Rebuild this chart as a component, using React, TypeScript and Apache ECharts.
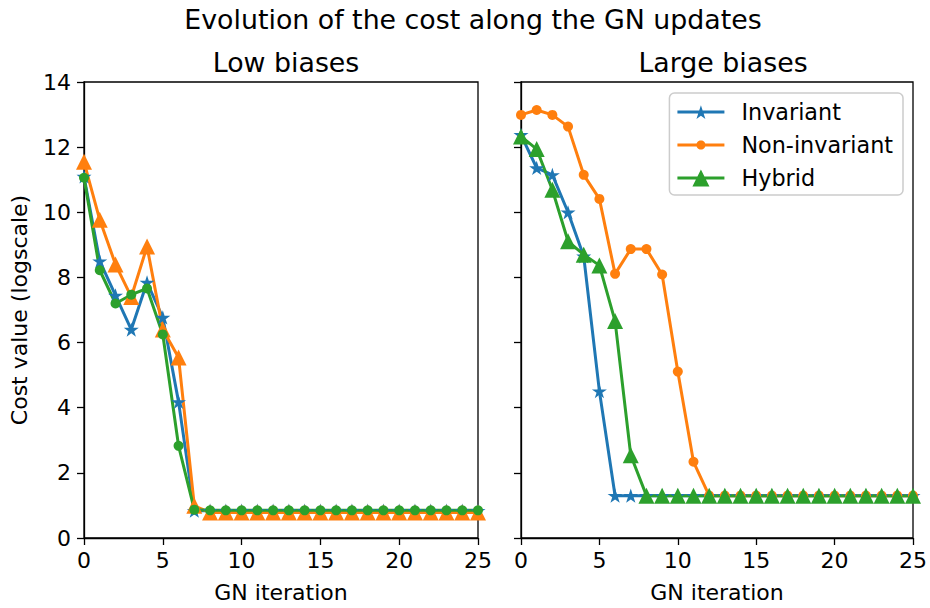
import React, { useEffect, useRef } from "react";
import * as echarts from "echarts";

const iterations = [0, 1, 2, 3, 4, 5, 6, 7, 8, 9, 10, 11, 12, 13, 14, 15, 16, 17, 18, 19, 20, 21, 22, 23, 24, 25];

const lowInvariant = [11.1, 8.5, 7.45, 6.4, 7.85, 6.77, 4.18, 0.84, 0.84, 0.84, 0.84, 0.84, 0.84, 0.84, 0.84, 0.84, 0.84, 0.84, 0.84, 0.84, 0.84, 0.84, 0.84, 0.84, 0.84, 0.84];
const lowNonInvariant = [11.55, 9.77, 8.4, 7.4, 8.95, 6.4, 5.54, 0.99, 0.78, 0.78, 0.78, 0.78, 0.78, 0.78, 0.78, 0.78, 0.78, 0.78, 0.78, 0.78, 0.78, 0.78, 0.78, 0.78, 0.78, 0.78];
const lowHybrid = [11.06, 8.22, 7.2, 7.47, 7.66, 6.25, 2.83, 0.87, 0.85, 0.85, 0.85, 0.85, 0.85, 0.85, 0.85, 0.85, 0.85, 0.85, 0.85, 0.85, 0.85, 0.85, 0.85, 0.85, 0.85, 0.85];

const largeInvariant = [12.38, 11.36, 11.15, 10.0, 8.65, 4.51, 1.3, 1.3, 1.3, 1.3, 1.3, 1.3, 1.3, 1.3, 1.3, 1.3, 1.3, 1.3, 1.3, 1.3, 1.3, 1.3, 1.3, 1.3, 1.3, 1.3];
const largeNonInvariant = [12.99, 13.14, 12.99, 12.63, 11.15, 10.41, 8.11, 8.87, 8.87, 8.09, 5.11, 2.34, 1.3, 1.3, 1.3, 1.3, 1.3, 1.3, 1.3, 1.3, 1.3, 1.3, 1.3, 1.3, 1.3, 1.3];
const largeHybrid = [12.33, 11.94, 10.69, 9.11, 8.7, 8.37, 6.66, 2.54, 1.3, 1.3, 1.3, 1.3, 1.3, 1.3, 1.3, 1.3, 1.3, 1.3, 1.3, 1.3, 1.3, 1.3, 1.3, 1.3, 1.3, 1.3];

const seriesNames = ["Invariant", "Non-invariant", "Hybrid"];
const xTicks = [0, 5, 10, 15, 20, 25];
const yTicks = [0, 2, 4, 6, 8, 10, 12, 14];

const BLUE = "#1f77b4";
const ORANGE = "#ff7f0e";
const GREEN = "#2ca02c";
const FONT = "DejaVu Sans";

const STAR =
  "path://M100,0 L122.45,69.1 L195.1,69.1 L136.3,111.8 L158.8,180.9 L100,138.2 L41.2,180.9 L63.7,111.8 L4.9,69.1 L77.55,69.1 Z";

// Legend icons: a line with the marker in its middle (box 47 x 22, all sub-paths clockwise)
const LEG_W = 47;
const LEG_H = 22;
const legLine = `M0,${LEG_H / 2 - 1.5} L${LEG_W},${LEG_H / 2 - 1.5} L${LEG_W},${LEG_H / 2 + 1.5} L0,${LEG_H / 2 + 1.5} Z`;
const legStar = (() => {
  const cx = LEG_W / 2, cy = LEG_H / 2 + 0.7, R = 7.6, r = R * 0.381966;
  const pts: string[] = [];
  for (let k = 0; k < 10; k++) {
    const ang = ((90 - k * 36) * Math.PI) / 180;
    const rad = k % 2 === 0 ? R : r;
    pts.push(`${(cx + rad * Math.cos(ang)).toFixed(2)},${(cy - rad * Math.sin(ang)).toFixed(2)}`);
  }
  return "M" + pts.join(" L") + " Z";
})();
const legCircle = (() => {
  const cx = LEG_W / 2, cy = LEG_H / 2, rad = 4.6;
  const pts: string[] = [];
  for (let k = 0; k < 24; k++) {
    const ang = (-Math.PI / 2) + (k * 2 * Math.PI) / 24;
    pts.push(`${(cx + rad * Math.cos(ang)).toFixed(2)},${(cy + rad * Math.sin(ang)).toFixed(2)}`);
  }
  return "M" + pts.join(" L") + " Z";
})();
const legTriangle = `M${LEG_W / 2},${LEG_H / 2 - 8.5} L${LEG_W / 2 + 8.5},${LEG_H / 2 + 8.5} L${LEG_W / 2 - 8.5},${LEG_H / 2 + 8.5} Z`;

const pairs = (ys: number[]) => iterations.map((x, i) => [x, ys[i]]);

export default function App() {
  const ref = useRef<HTMLDivElement>(null);

  useEffect(() => {
    document.body.style.margin = "0";
    if (!ref.current) return;
    const chart = echarts.init(ref.current, undefined, { renderer: "svg" });

    const xAxisBase = (gridIndex: number) => ({
      type: "value" as const,
      gridIndex,
      min: xTicks[0],
      max: xTicks[xTicks.length - 1],
      interval: 5,
      name: "GN iteration",
      nameLocation: "middle" as const,
      nameGap: 43,
      nameTextStyle: { fontFamily: FONT, fontSize: 22, color: "#000" },
      axisLine: { show: true, lineStyle: { color: "#000", width: 1.3 } },
      axisTick: { show: true, inside: false, length: 7, lineStyle: { color: "#000", width: 1.3 } },
      axisLabel: { show: true, margin: 11, fontFamily: FONT, fontSize: 22, color: "#000" },
      splitLine: { show: false },
    });

    const yAxisBase = (gridIndex: number, labels: boolean) => ({
      type: "value" as const,
      gridIndex,
      min: yTicks[0],
      max: yTicks[yTicks.length - 1],
      interval: 2,
      name: labels ? "Cost value (logscale)" : "",
      nameLocation: "middle" as const,
      nameGap: 54,
      nameTextStyle: { fontFamily: FONT, fontSize: 22, color: "#000" },
      axisLine: { show: true, lineStyle: { color: "#000", width: 1.3 } },
      axisTick: { show: true, inside: false, length: 7, lineStyle: { color: "#000", width: 1.3 } },
      axisLabel: { show: labels, margin: 13, fontFamily: FONT, fontSize: 22, color: "#000" },
      splitLine: { show: false },
    });

    const mk = (
      name: string,
      ys: number[],
      color: string,
      symbol: string,
      symbolSize: number,
      idx: number
    ) => ({
      name,
      type: "line" as const,
      xAxisIndex: idx,
      yAxisIndex: idx,
      data: pairs(ys),
      symbol,
      symbolSize,
      symbolKeepAspect: true,
      showAllSymbol: true,
      lineStyle: { color, width: 3 },
      itemStyle: { color },
      emphasis: { disabled: true },
    });

    chart.setOption({
      animation: false,
      backgroundColor: "#fff",
      title: [
        {
          text: "Evolution of the cost along the GN updates",
          left: 468,
          top: 1,
          textAlign: "center",
          textStyle: { fontFamily: FONT, fontSize: 26.8, fontWeight: "normal", color: "#000" },
        },
        {
          text: "Low biases",
          left: 281,
          top: 44,
          textAlign: "center",
          textStyle: { fontFamily: FONT, fontSize: 26.8, fontWeight: "normal", color: "#000" },
        },
        {
          text: "Large biases",
          left: 718,
          top: 44,
          textAlign: "center",
          textStyle: { fontFamily: FONT, fontSize: 26.8, fontWeight: "normal", color: "#000" },
        },
      ],
      legend: {
        data: [
          { name: seriesNames[0], icon: "path://" + legLine + " " + legStar },
          { name: seriesNames[1], icon: "path://" + legLine + " " + legCircle },
          { name: seriesNames[2], icon: "path://" + legLine + " " + legTriangle },
        ],
        orient: "vertical",
        right: 27,
        top: 93,
        itemWidth: LEG_W,
        itemHeight: LEG_H,
        itemGap: 11,
        padding: [8, 10, 6, 8],
        borderColor: "#cccccc",
        borderWidth: 1.5,
        borderRadius: 5,
        backgroundColor: "rgba(255,255,255,0.8)",
        textStyle: { fontFamily: FONT, fontSize: 22.3, color: "#000", padding: [0, 0, 0, 12] },
      },
      grid: [
        { left: 84, top: 82, width: 394, height: 457, show: true, borderColor: "#000", borderWidth: 1.3 },
        { left: 521, top: 82, width: 394, height: 457, show: true, borderColor: "#000", borderWidth: 1.3 },
      ],
      xAxis: [xAxisBase(0), xAxisBase(1)],
      yAxis: [yAxisBase(0, true), yAxisBase(1, false)],
      series: [
        mk(seriesNames[0], lowInvariant, BLUE, STAR, 15, 0),
        mk(seriesNames[1], lowNonInvariant, ORANGE, "triangle", 16, 0),
        mk(seriesNames[2], lowHybrid, GREEN, "circle", 10, 0),
        mk(seriesNames[0], largeInvariant, BLUE, STAR, 15, 1),
        mk(seriesNames[1], largeNonInvariant, ORANGE, "circle", 10, 1),
        mk(seriesNames[2], largeHybrid, GREEN, "triangle", 16, 1),
      ],
    });

    return () => chart.dispose();
  }, []);

  return <div ref={ref} style={{ width: 930, height: 608 }} />;
}
